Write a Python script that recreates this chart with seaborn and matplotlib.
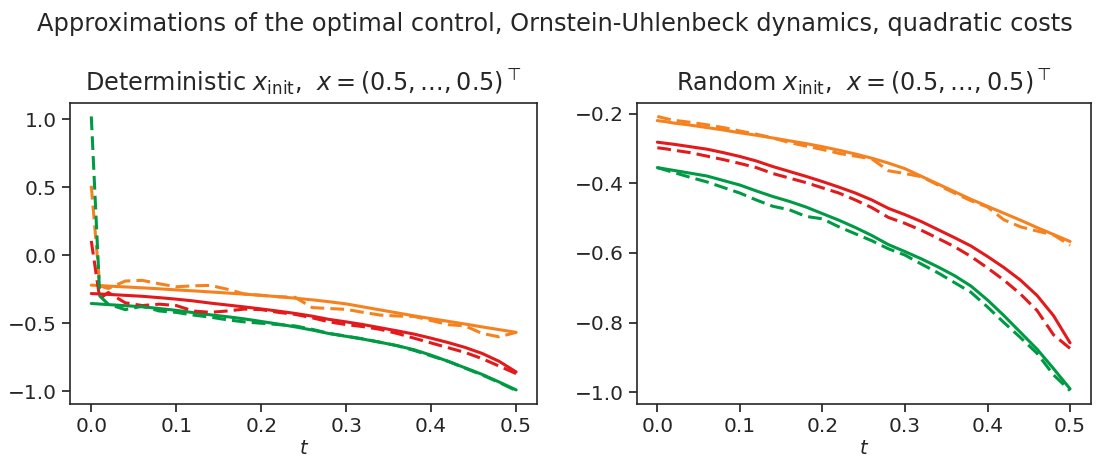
import numpy as np
import pandas as pd
import matplotlib
matplotlib.use("Agg")
import matplotlib.pyplot as plt
import seaborn as sns

# time grid
t = [0.0, 0.01, 0.02, 0.04, 0.06, 0.08, 0.10, 0.12, 0.14, 0.16, 0.18, 0.20, 0.22,
     0.24, 0.26, 0.28, 0.30, 0.32, 0.34, 0.36, 0.38, 0.40, 0.42, 0.44, 0.46, 0.48, 0.50]

# exact (solid) controls, shared by both panels
exact_orange = [-0.220, -0.223, -0.227, -0.233, -0.240, -0.247, -0.255, -0.262, -0.270,
                -0.278, -0.286, -0.295, -0.305, -0.316, -0.328, -0.342, -0.358, -0.380,
                -0.402, -0.424, -0.446, -0.466, -0.486, -0.506, -0.527, -0.547, -0.567]
exact_red = [-0.282, -0.285, -0.288, -0.295, -0.302, -0.312, -0.323, -0.336, -0.352,
             -0.366, -0.380, -0.395, -0.411, -0.428, -0.448, -0.472, -0.490, -0.510,
             -0.533, -0.556, -0.580, -0.610, -0.642, -0.678, -0.722, -0.780, -0.858]
exact_green = [-0.355, -0.359, -0.363, -0.371, -0.379, -0.392, -0.405, -0.422, -0.438,
               -0.452, -0.468, -0.487, -0.506, -0.527, -0.550, -0.576, -0.596, -0.617,
               -0.640, -0.665, -0.695, -0.735, -0.780, -0.828, -0.876, -0.932, -0.990]

# deterministic x_init approximations (dashed, left panel)
det_orange = [0.510, -0.225, -0.245, -0.190, -0.185, -0.210, -0.232, -0.225, -0.222,
              -0.250, -0.285, -0.295, -0.305, -0.310, -0.385, -0.392, -0.398, -0.420,
              -0.440, -0.447, -0.450, -0.480, -0.510, -0.520, -0.575, -0.600, -0.567]
det_red = [0.105, -0.320, -0.274, -0.350, -0.370, -0.360, -0.370, -0.410, -0.420,
           -0.410, -0.396, -0.400, -0.420, -0.435, -0.460, -0.490, -0.510, -0.525,
           -0.545, -0.575, -0.610, -0.645, -0.680, -0.715, -0.760, -0.815, -0.870]
det_green = [1.020, -0.300, -0.360, -0.400, -0.375, -0.410, -0.420, -0.440, -0.455,
             -0.475, -0.490, -0.500, -0.510, -0.520, -0.545, -0.575, -0.595, -0.615,
             -0.640, -0.665, -0.700, -0.740, -0.780, -0.830, -0.880, -0.935, -0.995]

# random x_init approximations (dashed, right panel)
rnd_orange = [-0.208, -0.214, -0.219, -0.225, -0.232, -0.240, -0.250, -0.259, -0.270,
              -0.283, -0.293, -0.303, -0.314, -0.322, -0.330, -0.364, -0.372, -0.381,
              -0.405, -0.428, -0.450, -0.468, -0.505, -0.525, -0.537, -0.548, -0.578]
rnd_red = [-0.298, -0.301, -0.305, -0.312, -0.322, -0.332, -0.343, -0.355, -0.372,
           -0.385, -0.398, -0.413, -0.428, -0.448, -0.470, -0.498, -0.515, -0.535,
           -0.558, -0.582, -0.610, -0.643, -0.678, -0.718, -0.765, -0.835, -0.874]
rnd_green = [-0.355, -0.362, -0.369, -0.383, -0.396, -0.412, -0.428, -0.448, -0.466,
             -0.476, -0.495, -0.502, -0.525, -0.545, -0.565, -0.588, -0.606, -0.632,
             -0.657, -0.685, -0.713, -0.755, -0.800, -0.843, -0.888, -0.950, -0.995]

colors = {"orange": "#f5821f", "red": "#e31a1c", "green": "#009a44"}

suptitle = "Approximations of the optimal control, Ornstein-Uhlenbeck dynamics, quadratic costs"
titles = [r"Deterministic $x_{\mathrm{init}}$,  $x = (0.5, \ldots, 0.5)^{\top}$",
          r"Random $x_{\mathrm{init}}$,  $x = (0.5, \ldots, 0.5)^{\top}$"]

sns.set_theme(style="ticks")
plt.rcParams["font.family"] = ["DejaVu Sans"]
plt.rcParams["mathtext.fontset"] = "dejavusans"

fig = plt.figure(figsize=(11.1, 4.62), dpi=100)
ax1 = fig.add_axes([0.0631, 0.1249, 0.421, 0.6528])
ax2 = fig.add_axes([0.5736, 0.1249, 0.409, 0.6528])

panels = [
    (ax1, [exact_orange, exact_red, exact_green], [det_orange, det_red, det_green]),
    (ax2, [exact_orange, exact_red, exact_green], [rnd_orange, rnd_red, rnd_green]),
]

for (ax, solids, dashes), title in zip(panels, titles):
    for name, ys in zip(["orange", "red", "green"], solids):
        sns.lineplot(x=t, y=ys, ax=ax, color=colors[name], linewidth=2.2, estimator=None)
    for name, ys in zip(["orange", "red", "green"], dashes):
        sns.lineplot(x=t, y=ys, ax=ax, color=colors[name], linewidth=2.2,
                     linestyle=(0, (4.5, 2.0)), estimator=None)
    ax.set_title(title, fontsize=17.2, color=".15", pad=8)
    ax.set_xlabel("$t$", fontsize=14, labelpad=2)
    ax.set_xticks([0.0, 0.1, 0.2, 0.3, 0.4, 0.5])
    ax.tick_params(labelsize=14.5)
    for s in ax.spines.values():
        s.set_linewidth(1.2)

ax1.set_yticks([1.0, 0.5, 0.0, -0.5, -1.0])
ax2.set_yticks([-0.2, -0.4, -0.6, -0.8, -1.0])

fig.suptitle(suptitle, fontsize=17.4, y=0.975, color=".15")
fig.savefig("out.png", dpi=100)
